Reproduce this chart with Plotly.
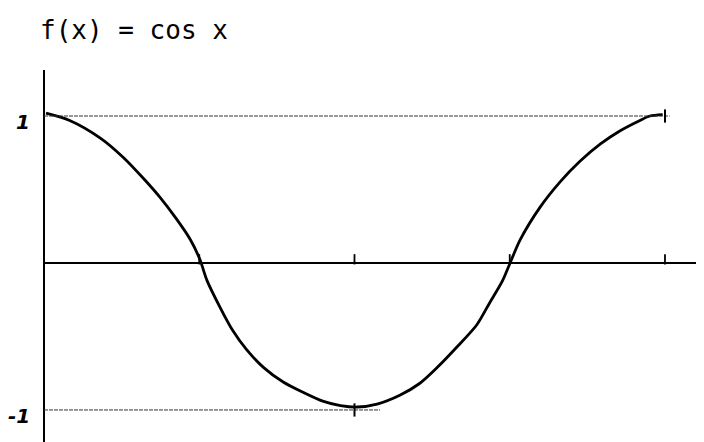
import numpy as np
import plotly.graph_objects as go

# Curve points (x in radians, y = f(x))
curve_x = [0.02, 0.26, 0.57, 0.80, 1.00, 1.17, 1.34, 1.48, 1.58, 1.60, 1.65, 1.78, 1.91,
           2.05, 2.22, 2.42, 2.62, 2.82, 3.00, 3.17, 3.37, 3.60, 3.80, 3.98, 4.18, 4.38, 4.51,
           4.64, 4.71, 4.82, 5.02, 5.22, 5.42, 5.63, 5.83, 6.03, 6.13, 6.26]
curve_y = [1.02, 0.97, 0.85, 0.72, 0.58, 0.45, 0.30, 0.16, 0.02, -0.02, -0.12, -0.30, -0.46,
           -0.59, -0.71, -0.81, -0.88, -0.94, -0.97, -0.98, -0.96, -0.90, -0.82, -0.71, -0.57, -0.42, -0.27,
           -0.12, -0.01, 0.16, 0.38, 0.55, 0.69, 0.81, 0.90, 0.97, 1.00, 1.01]

x_ticks = [np.pi / 2, np.pi, 3 * np.pi / 2, 2 * np.pi]
y_levels = [1, -1]
y_labels = ["1", "-1"]
ref_line_ends = [6.33, 3.40]      # how far the dotted guide lines reach
ref_marks_x = [2 * np.pi, np.pi]  # cross marks on the guide lines
title_text = "f(x) = cos x"

# page body has an 8px margin, so the figure is drawn 8px in from the window edge
W, H = 696, 434

fig = go.Figure()
fig.add_trace(go.Scatter(x=curve_x, y=curve_y, mode="lines",
                         line=dict(color="black", width=2.8, shape="spline", smoothing=0.8),
                         hoverinfo="skip", showlegend=False))

shapes = []
for lvl, end, mx in zip(y_levels, ref_line_ends, ref_marks_x):
    shapes.append(dict(type="line", xref="x", yref="y", x0=0, x1=end, y0=lvl, y1=lvl,
                       line=dict(color="#333", width=1, dash="4px,1px")))
    shapes.append(dict(type="line", xref="x", yref="y", x0=mx, x1=mx, y0=lvl - 0.045, y1=lvl + 0.045,
                       line=dict(color="black", width=2)))
for tx in x_ticks:
    shapes.append(dict(type="line", xref="x", yref="y", x0=tx, x1=tx, y0=-0.01, y1=0.06,
                       line=dict(color="black", width=1.8)))

annotations = []
for lvl, lab in zip(y_levels, y_labels):
    annotations.append(dict(xref="paper", yref="y", x=0, y=lvl, text=lab, showarrow=False,
                            xanchor="right", yanchor="middle", xshift=-12, yshift=-6,
                            font=dict(family="DejaVu Sans", size=20, color="black",
                                      style="italic", weight="bold")))

fig.update_layout(
    width=W, height=H,
    margin=dict(l=36, r=0, t=62, b=0),
    paper_bgcolor="white", plot_bgcolor="white",
    title=dict(text=title_text, xref="container", yref="container", x=32 / W, y=1 - 22 / H,
               xanchor="left", yanchor="middle",
               font=dict(family="DejaVu Sans Mono", size=26, color="black")),
    xaxis=dict(range=[0, 6.678], showgrid=False, showticklabels=False, ticks="",
               zeroline=True, zerolinecolor="black", zerolinewidth=2.2, showline=False, fixedrange=True),
    yaxis=dict(range=[-1.218, 1.313], showgrid=False, showticklabels=False, ticks="",
               zeroline=True, zerolinecolor="black", zerolinewidth=2.2, showline=False, fixedrange=True),
    shapes=shapes,
    annotations=annotations,
)
fig.write_html("out.html")
